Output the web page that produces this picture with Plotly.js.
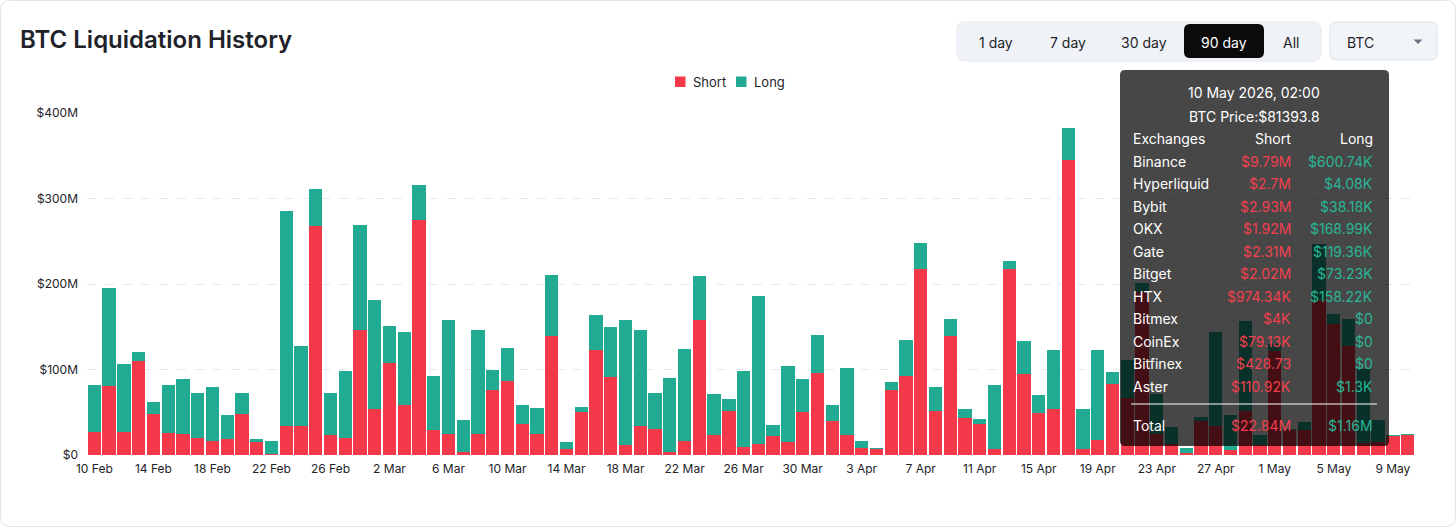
<!DOCTYPE html>
<html>
<head>
<meta charset="utf-8">
<script src="https://cdn.plot.ly/plotly-3.0.1.min.js"></script>
<style>
html,body{margin:0;padding:0;background:#fff;}
#chart{width:1456px;height:527px;}
</style>
</head>
<body>
<div id="chart"></div>
<script>
// ---- data (values in millions of USD) ----
const dates = [
"2026-02-10","2026-02-11","2026-02-12","2026-02-13","2026-02-14","2026-02-15","2026-02-16","2026-02-17","2026-02-18","2026-02-19",
"2026-02-20","2026-02-21","2026-02-22","2026-02-23","2026-02-24","2026-02-25","2026-02-26","2026-02-27","2026-02-28","2026-03-01",
"2026-03-02","2026-03-03","2026-03-04","2026-03-05","2026-03-06","2026-03-07","2026-03-08","2026-03-09","2026-03-10","2026-03-11",
"2026-03-12","2026-03-13","2026-03-14","2026-03-15","2026-03-16","2026-03-17","2026-03-18","2026-03-19","2026-03-20","2026-03-21",
"2026-03-22","2026-03-23","2026-03-24","2026-03-25","2026-03-26","2026-03-27","2026-03-28","2026-03-29","2026-03-30","2026-03-31",
"2026-04-01","2026-04-02","2026-04-03","2026-04-04","2026-04-05","2026-04-06","2026-04-07","2026-04-08","2026-04-09","2026-04-10",
"2026-04-11","2026-04-12","2026-04-13","2026-04-14","2026-04-15","2026-04-16","2026-04-17","2026-04-18","2026-04-19","2026-04-20",
"2026-04-21","2026-04-22","2026-04-23","2026-04-24","2026-04-25","2026-04-26","2026-04-27","2026-04-28","2026-04-29","2026-04-30",
"2026-05-01","2026-05-02","2026-05-03","2026-05-04","2026-05-05","2026-05-06","2026-05-07","2026-05-08","2026-05-09","2026-05-10"
];
const shortVals = [
27,80.5,27,110,48.4,26,24.6,20,16.8,19,
48,15,1,34,33.6,268,23.4,19.5,146,54,
108,58,275,29,24.6,3.5,25,76,86,36,
24.6,138.7,6.6,50,123,91.8,11.7,34,30.5,3.9,
16.4,158,23.8,51.6,9,12.9,22.7,15,50,95.7,
40,23.4,8.2,7.4,76,92,218,51.6,139,43.4,
36,7,218,95.3,49.6,54,345,7,17,83,
67,191,25,12.5,2.5,40,33.5,5.5,51,12,
122,29,29,181,153,128,13.7,15.2,22,22.84
];
const longVals = [
55,114.5,80,11,13.6,55.6,64.1,52,62.2,28,
24,4,15.4,251,94.4,43,49.6,78.2,123,127,
43,86,41,63,133.4,37.1,121,23,39,23,
30.4,71.8,8.4,6.6,40.7,57.8,146.1,112,41.5,86.1,
107.6,51.8,47.7,14,89.8,172.6,12.8,89,38.7,44.3,
18,78.2,8.2,0.8,9,43,29.7,27.4,20,10.1,
6,75,9,38.3,20.4,68.7,37,46.5,105.7,14,
44,10.6,45.8,20.5,5.7,4.6,110,41,105.7,11,
8,2,9.4,66,12,31.6,87.3,25.5,1,1.16
];
const tickDates = ["2026-02-10","2026-02-14","2026-02-18","2026-02-22","2026-02-26","2026-03-02","2026-03-06","2026-03-10",
"2026-03-14","2026-03-18","2026-03-22","2026-03-26","2026-03-30","2026-04-03","2026-04-07","2026-04-11","2026-04-15",
"2026-04-19","2026-04-23","2026-04-27","2026-05-01","2026-05-05","2026-05-09"];
const tickLabels = ["10 Feb","14 Feb","18 Feb","22 Feb","26 Feb","2 Mar","6 Mar","10 Mar","14 Mar","18 Mar","22 Mar","26 Mar",
"30 Mar","3 Apr","7 Apr","11 Apr","15 Apr","19 Apr","23 Apr","27 Apr","1 May","5 May","9 May"];
const yTickVals = [0,100,200,300,400];
const yTickText = ["$0","$100M","$200M","$300M","$400M"];
const seriesNames = ["Short","Long"];
const seriesColors = ["#f23849","#22ab93"];

// tooltip content
const tipDate = "10 May 2026, 02:00";
const tipPrice = "BTC Price:$81393.8";
const exchanges = ["Binance","Hyperliquid","Bybit","OKX","Gate","Bitget","HTX","Bitmex","CoinEx","Bitfinex","Aster"];
const exShort = ["$9.79M","$2.7M","$2.93M","$1.92M","$2.31M","$2.02M","$974.34K","$4K","$79.13K","$428.73","$110.92K"];
const exLong = ["$600.74K","$4.08K","$38.18K","$168.99K","$119.36K","$73.23K","$158.22K","$0","$0","$0","$1.3K"];
const totalShort = "$22.84M";
const totalLong = "$1.16M";
const periods = ["1 day","7 day","30 day","90 day","All"];

// ---- layout helpers ----
const W=1456,H=527,L=87,R=41,T=113,B=72;
const PW=W-L-R, PH=H-T-B;
function px(x){return (x-L)/PW;}
function py(y){return (H-B-y)/PH;}
function rr(x0,y0,x1,y1,r){
  return "M"+px(x0+r)+","+py(y0)+" L"+px(x1-r)+","+py(y0)+" Q"+px(x1)+","+py(y0)+" "+px(x1)+","+py(y0+r)+
  " L"+px(x1)+","+py(y1-r)+" Q"+px(x1)+","+py(y1)+" "+px(x1-r)+","+py(y1)+
  " L"+px(x0+r)+","+py(y1)+" Q"+px(x0)+","+py(y1)+" "+px(x0)+","+py(y1-r)+
  " L"+px(x0)+","+py(y0+r)+" Q"+px(x0)+","+py(y0)+" "+px(x0+r)+","+py(y0)+" Z";
}
const FONT = "Inter, 'Noto Sans', sans-serif";
const annotations = [];
function ann(text,x,y,anchor,size,color,weight){
  annotations.push({text:text,xref:"paper",yref:"paper",x:px(x),y:py(y),xanchor:anchor||"left",yanchor:"middle",
    showarrow:false,font:{family:FONT,size:size||14,color:color||"#1e2329",weight:weight||400}});
}
const shapes = [];
// card border
shapes.push({type:"path",xref:"paper",yref:"paper",path:rr(0.5,0.5,1455.5,526.5,10),line:{color:"#e3e5e8",width:1},fillcolor:"rgba(0,0,0,0)",layer:"below"});
// period button group
shapes.push({type:"path",xref:"paper",yref:"paper",path:rr(957,22,1321,61,8),line:{color:"#e6e9ee",width:1},fillcolor:"#eff2f6",layer:"below"});
shapes.push({type:"path",xref:"paper",yref:"paper",path:rr(1184,24,1264,58,6),line:{width:0},fillcolor:"#0b0b0c",layer:"below"});
// coin dropdown
shapes.push({type:"path",xref:"paper",yref:"paper",path:rr(1330,22,1437,60,6),line:{color:"#dde2e8",width:1},fillcolor:"#f2f5f8",layer:"below"});
shapes.push({type:"path",xref:"paper",yref:"paper",path:"M"+px(1413.5)+","+py(39.5)+" L"+px(1422.5)+","+py(39.5)+" L"+px(1418)+","+py(44)+" Z",line:{width:0},fillcolor:"#6b7280",layer:"below"});
// legend swatches
const legX=[675,736], legTextX=[691,752];
seriesNames.forEach((n,i)=>{
  shapes.push({type:"rect",xref:"paper",yref:"paper",x0:px(legX[i]),x1:px(legX[i]+10.5),y0:py(76.5),y1:py(87),line:{width:0},fillcolor:seriesColors[i],layer:"below"});
});
// tooltip
shapes.push({type:"path",xref:"paper",yref:"paper",path:rr(1120,70,1389,446,5),line:{width:0},fillcolor:"rgba(0,0,0,0.72)",layer:"above"});
shapes.push({type:"line",xref:"paper",yref:"paper",x0:px(1131),x1:px(1377),y0:py(404),y1:py(404),line:{color:"#ffffff",width:1},layer:"above"});

// title
ann("BTC Liquidation History",18,39,"left",24,"#1e2329",600);
// legend text
seriesNames.forEach((n,i)=>ann(n,legTextX[i],82,"left",13,"#1e2329"));
// period buttons
const btnX=[996,1068,1144,1224,1291];
periods.forEach((p,i)=>ann(p,btnX[i],42,"center",14,i===3?"#ffffff":"#1e2329"));
ann("BTC",1345,42,"left",14,"#1e2329");
// tooltip text
const TIPRED="#f0404f", TIPGRN="#2ab595";
ann(tipDate,1254,93,"center",14,"#ffffff");
ann(tipPrice,1254,116,"center",14,"#ffffff");
ann("Exchanges",1131,138,"left",14,"#ffffff");
ann("Short",1293,138,"right",14,"#ffffff");
ann("Long",1375,138,"right",14,"#ffffff");
exchanges.forEach((e,i)=>{
  const y=161+i*22.5;
  ann(e,1131,y,"left",14,"#ffffff");
  ann(exShort[i],1293,y,"right",14,TIPRED);
  ann(exLong[i],1375,y,"right",14,TIPGRN);
});
ann("Total",1131,425,"left",14,"#ffffff");
ann(totalShort,1293,425,"right",14,TIPRED);
ann(totalLong,1375,425,"right",14,TIPGRN);

const data = [
  {type:"bar",name:seriesNames[0],x:dates,y:shortVals,marker:{color:seriesColors[0],line:{width:0}},hoverinfo:"skip"},
  {type:"bar",name:seriesNames[1],x:dates,y:longVals,marker:{color:seriesColors[1],line:{width:0}},hoverinfo:"skip"}
];
const layout = {
  width:W,height:H,
  margin:{l:L,r:R,t:T,b:B,pad:0},
  paper_bgcolor:"#ffffff",plot_bgcolor:"#ffffff",
  barmode:"stack",bargap:0.1,
  hovermode:false,
  font:{family:FONT,size:12,color:"#1e2329"},
  showlegend:false,
  xaxis:{type:"date",range:["2026-02-09 12:00","2026-05-10 12:00"],tickvals:tickDates,ticktext:tickLabels,
    showgrid:false,zeroline:false,showline:false,ticks:"",tickfont:{family:FONT,size:12,color:"#1e2329"},ticklabelstandoff:5},
  yaxis:{range:[0,400],tickvals:yTickVals,ticktext:yTickText,showgrid:true,gridcolor:"#e8e9eb",griddash:"dash",gridwidth:1,
    zeroline:false,showline:false,ticks:"",tickfont:{family:FONT,size:12,color:"#1e2329"},ticklabelstandoff:8},
  shapes:shapes,
  annotations:annotations
};
Plotly.newPlot("chart",data,layout,{displayModeBar:false,staticPlot:true});
</script>
</body>
</html>
